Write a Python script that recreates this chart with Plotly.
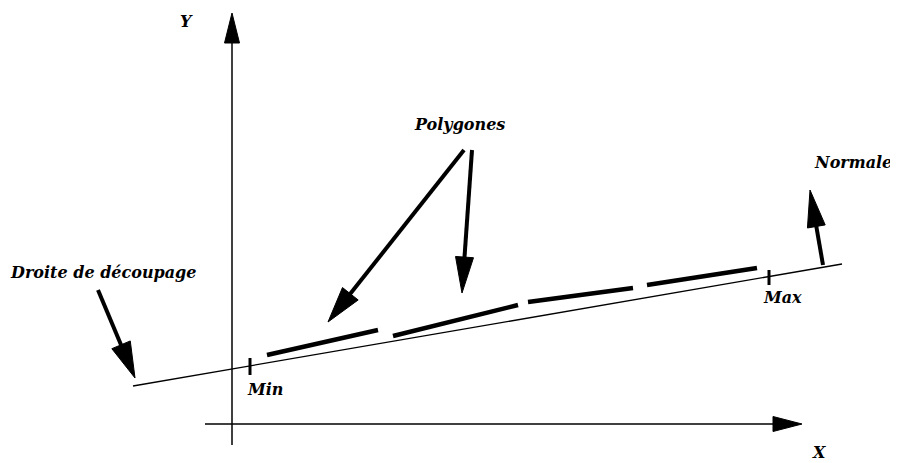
import math
import plotly.graph_objects as go

W, H = 898, 463
PAGE_MARGIN = 8  # default body margin of the page that holds the plot

# Diagram geometry (pixel coordinates of the reference picture)
y_axis = [(232, 445), (232, 13)]
x_axis = [(205, 424), (802, 424)]
clip_line = [(133, 386), (842, 264)]
polygon_segments = [
    [(267, 355), (378, 330)],
    [(393, 336), (518, 305)],
    [(528, 302), (633, 288)],
    [(647, 285), (757, 268)],
]
tick_min = [(250, 358), (250, 375)]
tick_max = [(769, 270), (769, 285)]
arrow_droite = [(98, 290), (135, 378)]
arrow_poly1 = [(464, 150), (328, 322)]
arrow_poly2 = [(472, 150), (462, 293)]
arrow_normal = [(823, 265), (810, 190)]

labels = ["Y", "X", "Polygones", "Normale", "Droite de découpage", "Min", "Max"]
label_pos = [(186, 21), (819, 452), (459, 124), (853, 162), (103, 272), (265, 389), (782, 297)]

FONT = dict(family="DejaVu Serif", size=16, color="black", weight="bold", style="italic")

fig = go.Figure()


def add_line(p, width):
    fig.add_trace(go.Scatter(x=[p[0][0], p[1][0]], y=[p[0][1], p[1][1]], mode="lines",
                             line=dict(color="black", width=width), hoverinfo="skip",
                             showlegend=False))


def add_arrow(p, width, head_len, head_half):
    (x0, y0), (x1, y1) = p
    dx, dy = x1 - x0, y1 - y0
    n = math.hypot(dx, dy)
    ux, uy = dx / n, dy / n
    bx, by = x1 - ux * head_len, y1 - uy * head_len
    add_line([(x0, y0), (bx + ux * 2, by + uy * 2)], width)
    px, py = -uy, ux
    fig.add_trace(go.Scatter(
        x=[x1, bx + px * head_half, bx - px * head_half, x1],
        y=[y1, by + py * head_half, by - py * head_half, y1],
        mode="lines", fill="toself", fillcolor="black",
        line=dict(color="black", width=1), hoverinfo="skip", showlegend=False))


add_line(clip_line, 1.3)
for seg in polygon_segments:
    add_line(seg, 4.5)
add_line(tick_min, 3)
add_line(tick_max, 3)
add_arrow(y_axis, 1.5, 30, 7.5)
add_arrow(x_axis, 1.5, 29, 7.5)
add_arrow(arrow_droite, 4, 36, 10)
add_arrow(arrow_poly1, 4, 36, 10)
add_arrow(arrow_poly2, 4, 36, 9)
add_arrow(arrow_normal, 4, 37, 9)

for t, (x, y) in zip(labels, label_pos):
    fig.add_annotation(x=x, y=y, text=t, showarrow=False, font=FONT,
                       xanchor="center", yanchor="middle")

fig.update_layout(
    width=W - PAGE_MARGIN, height=H - PAGE_MARGIN, margin=dict(l=0, r=0, t=0, b=0),
    paper_bgcolor="white", plot_bgcolor="white",
    xaxis=dict(range=[PAGE_MARGIN, W], visible=False, fixedrange=True),
    yaxis=dict(range=[H, PAGE_MARGIN], visible=False, fixedrange=True),
)

fig.write_html("out.html")
